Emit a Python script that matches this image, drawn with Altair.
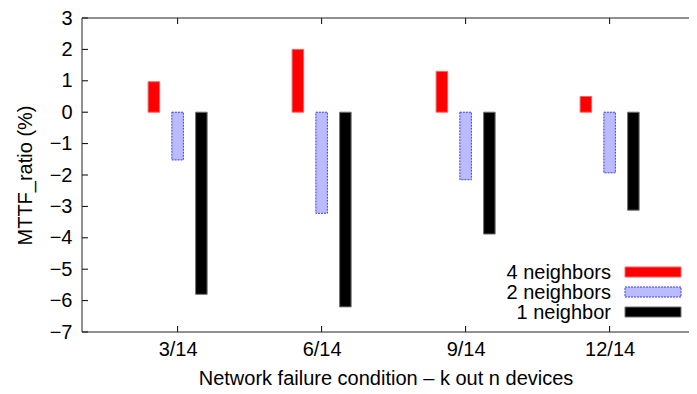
import altair as alt
import pandas as pd

# ---- data ----
groups = ["3/14", "6/14", "9/14", "12/14"]
series = ["4 neighbors", "2 neighbors", "1 neighbor"]
four_neighbors = [0.97, 2.0, 1.3, 0.5]
two_neighbors = [-1.52, -3.22, -2.15, -1.93]
one_neighbor = [-5.8, -6.2, -3.88, -3.12]
y_ticks = list(range(-7, 4))

# ---- layout ----
W, H = 607, 314
PX_PER_GROUP = 144.0
X_MIN = -0.664
X_MAX = X_MIN + W / PX_PER_GROUP
FONT = "Liberation Sans"
FS = 20

rows = []
for si, vals in enumerate([four_neighbors, two_neighbors, one_neighbor]):
    for gi, v in enumerate(vals):
        rows.append({"group": groups[gi], "gi": gi, "series": series[si], "si": si, "value": v})
df = pd.DataFrame(rows)

xscale = alt.Scale(domain=[X_MIN, X_MAX], nice=False, zero=False)
yscale = alt.Scale(domain=[-7, 3], nice=False, zero=False)

label_expr = "[" + ",".join("'%s'" % g for g in groups) + "][datum.value]"
x_axis = alt.Axis(values=list(range(len(groups))), labelExpr=label_expr, ticks=False,
                  domain=False, grid=False, labelFontSize=FS, labelFont=FONT,
                  labelColor="black", labelPadding=7,
                  title="Network failure condition \u2013 k out n devices",
                  titleFontSize=FS, titleFont=FONT, titleFontWeight="normal",
                  titleColor="black", titlePadding=9)
y_axis = alt.Axis(values=y_ticks, ticks=False, domain=False, grid=False,
                  labelExpr="datum.value < 0 ? '\u2212' + abs(datum.value) : '' + datum.value",
                  labelFontSize=FS, labelFont=FONT, labelColor="black", labelPadding=10,
                  title="MTTF_ratio (%)", titleFontSize=FS, titleFont=FONT,
                  titleFontWeight="normal", titleColor="black", titlePadding=14)

styles = {
    "4 neighbors": dict(fill="#ff0000", stroke="#ff6060", strokeWidth=1),
    "2 neighbors": dict(fill="#babcff", stroke="#3a3aff", strokeWidth=1, strokeDash=[2, 1]),
    "1 neighbor": dict(fill="#000000", stroke="#707070", strokeWidth=1),
}

base = alt.Chart(df).transform_calculate(
    x0="datum.gi + [-0.165, 0, 0.165][datum.si] - 0.04",
    x1="datum.gi + [-0.165, 0, 0.165][datum.si] + 0.04",
    zero="0",
)

layers = []
for name in series:
    layers.append(
        base.transform_filter(alt.datum.series == name)
        .mark_rect(**styles[name])
        .encode(
            x=alt.X("x0:Q", scale=xscale, axis=x_axis),
            x2="x1:Q",
            y=alt.Y("value:Q", scale=yscale, axis=y_axis),
            y2="zero:Q",
        )
    )

# inward ticks (gnuplot style, mirrored on top)
ydf = pd.DataFrame({"v": y_ticks})
xdf = pd.DataFrame({"gi": list(range(len(groups)))})
tick_y = alt.Y("v:Q", scale=yscale, axis=y_axis)
tick_x = alt.X("gi:Q", scale=xscale, axis=x_axis)
layers.append(alt.Chart(ydf).mark_rule(color="black").encode(y=tick_y, x=alt.value(0), x2=alt.value(6)))
layers.append(alt.Chart(xdf).mark_rule(color="black").encode(x=tick_x, y=alt.value(H - 6), y2=alt.value(H)))
layers.append(alt.Chart(xdf).mark_rule(color="black").encode(x=tick_x, y=alt.value(0), y2=alt.value(6)))

# frame: left, top and bottom (the right edge lies outside the picture)
fdf = pd.DataFrame({"edge": ["frame"]})
layers.append(alt.Chart(fdf).mark_rule(color="#222222").encode(x=alt.value(0), y=alt.value(0), y2=alt.value(H)))
layers.append(alt.Chart(fdf).mark_rule(color="#222222").encode(y=alt.value(0), x=alt.value(0), x2=alt.value(W)))
layers.append(alt.Chart(fdf).mark_rule(color="#222222").encode(y=alt.value(H), x=alt.value(0), x2=alt.value(W)))

# legend (label left of swatch, as in gnuplot)
for i, name in enumerate(series):
    ldf = pd.DataFrame({"series": [name]})
    cy = 254 + 20 * i
    layers.append(
        alt.Chart(ldf).mark_rect(**styles[name]).encode(
            x=alt.value(543), x2=alt.value(599), y=alt.value(cy - 5), y2=alt.value(cy + 5)
        )
    )
    layers.append(
        alt.Chart(ldf).mark_text(align="right", baseline="middle", font=FONT, fontSize=FS, color="black")
        .encode(text="series:N", x=alt.value(529), y=alt.value(cy + 1))
    )

chart = alt.layer(*layers).properties(
    width=W, height=H,
    autosize=alt.AutoSizeParams(type="none"),
    padding={"left": 74, "top": 10, "right": 0, "bottom": 58},
    background="white",
).configure_view(strokeOpacity=0)

chart.save("out.html", embed_options={"renderer": "svg", "actions": False})
